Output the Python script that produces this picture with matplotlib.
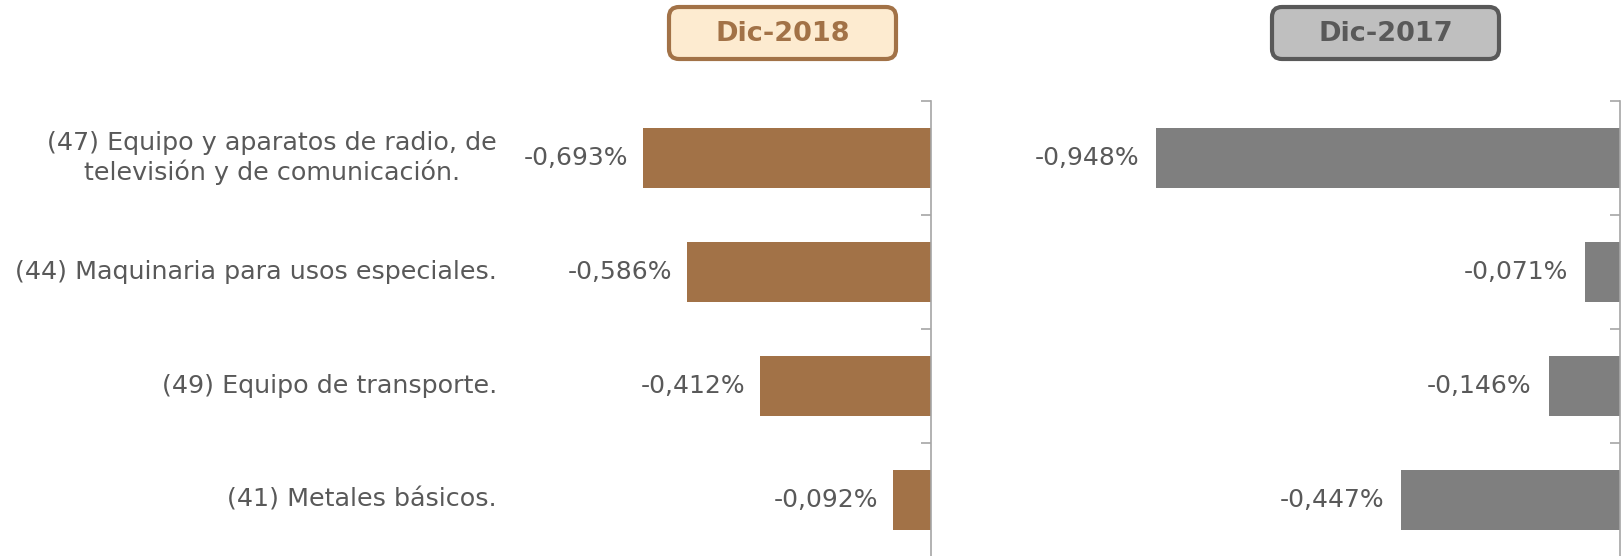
import matplotlib.pyplot as plt
from matplotlib.patches import FancyBboxPatch
from matplotlib.transforms import blended_transform_factory

# data
categories = ['(47) Equipo y aparatos de radio, de\ntelevisión y de comunicación.',
              '(44) Maquinaria para usos especiales.',
              '(49) Equipo de transporte.',
              '(41) Metales básicos.']
dic_2018 = [-0.693, -0.586, -0.412, -0.092]
dic_2017 = [-0.948, -0.071, -0.146, -0.447]
titles = ['Dic-2018', 'Dic-2017']

W, H = 1623, 556
brown = '#A27247'
grey = '#7F7F7F'
txt = '#595959'
font = 'DejaVu Sans'

fig = plt.figure(figsize=(W / 100, H / 100), dpi=100)
fig.patch.set_facecolor('white')


def fx(px):
    return px / W


top = 1 - 101 / H
height = 456 / H
ax1 = fig.add_axes([fx(515), top - height, fx(416), height])
ax2 = fig.add_axes([fx(1131), top - height, fx(489), height])

ypos = list(range(len(categories)))
for ax, vals, color in [(ax1, dic_2018, brown), (ax2, dic_2017, grey)]:
    ax.barh(ypos, vals, height=0.52, color=color)
    ax.set_xlim(-1.0, 0)
    ax.set_ylim(3.5, -0.5)
    ax.patch.set_alpha(0)
    for s in ['left', 'top', 'bottom']:
        ax.spines[s].set_visible(False)
    ax.spines['right'].set_color('#A6A6A6')
    ax.spines['right'].set_linewidth(1.2)
    ax.yaxis.tick_right()
    ax.set_yticks([-0.5, 0.5, 1.5, 2.5, 3.5])
    ax.set_yticklabels([])
    ax.tick_params(axis='y', direction='in', length=7, color='#A6A6A6', width=1.2)
    ax.set_xticks([])
    for y, v in zip(ypos, vals):
        ax.text(v - 0.035, y, f'{v:.3f}%'.replace('.', ','), ha='right', va='center',
                fontsize=18, color=txt, family=font)

# category labels
tr = blended_transform_factory(fig.transFigure, ax1.transData)
for y, c in zip(ypos, categories):
    ax1.text(fx(497), y, c, transform=tr, ha='right', va='center',
             multialignment='center', fontsize=18.3, color=txt, family=font,
             linespacing=1.2)

# header boxes drawn in pixel space
ov = fig.add_axes([0, 0, 1, 1])
ov.set_xlim(0, W)
ov.set_ylim(H, 0)
ov.axis('off')
ov.patch.set_alpha(0)
boxes = [(669, 227, '#FDEBD0', brown), (1272, 227, '#BFBFBF', txt)]
for (x0, w, fc, ec), t in zip(boxes, titles):
    ov.add_patch(FancyBboxPatch((x0, 7), w, 52, boxstyle='round,pad=0,rounding_size=10',
                                fc=fc, ec=ec, lw=3))
    ov.text(x0 + w / 2, 34, t, ha='center', va='center', fontsize=19.5,
            fontweight='bold', color=ec, family=font)

fig.savefig('out.png', dpi=100)
